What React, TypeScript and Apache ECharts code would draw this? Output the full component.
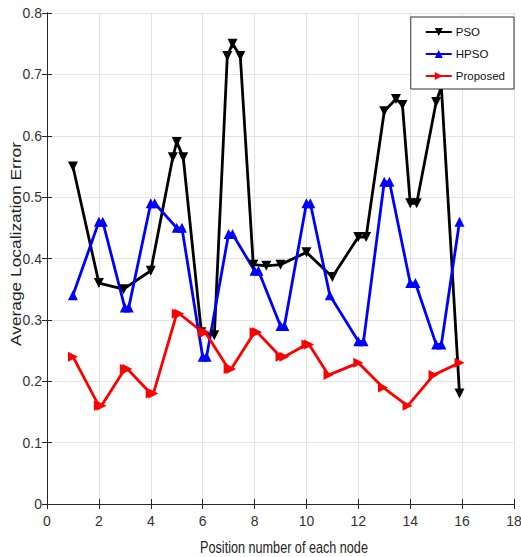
import React, { useEffect, useRef } from "react";
import * as echarts from "echarts";

const psoPoints: [number, number][] = [
  [1, 0.55], [2, 0.36], [2.95, 0.35], [4, 0.38], [4.85, 0.565], [5, 0.59], [5.25, 0.565],
  [5.95, 0.28], [6.45, 0.275], [6.95, 0.73], [7.15, 0.75], [7.45, 0.73], [7.95, 0.39],
  [8.45, 0.388], [9, 0.39], [10, 0.41], [11, 0.37], [12, 0.435], [12.3, 0.435], [13, 0.64],
  [13.45, 0.66], [13.7, 0.65], [14, 0.49], [14.25, 0.49], [15, 0.655], [15.2, 0.68], [15.9, 0.18],
];
const hpsoPoints: [number, number][] = [
  [1, 0.34], [2, 0.46], [2.15, 0.46], [3, 0.32], [3.15, 0.32], [4, 0.49], [4.15, 0.49],
  [5, 0.45], [5.2, 0.45], [6, 0.24], [6.15, 0.24], [7, 0.44], [7.15, 0.44], [8, 0.38],
  [8.15, 0.38], [9, 0.29], [9.15, 0.29], [10, 0.49], [10.15, 0.49], [10.9, 0.34],
  [12, 0.265], [12.2, 0.265], [13, 0.525], [13.2, 0.525], [14, 0.36], [14.2, 0.36],
  [15, 0.26], [15.2, 0.26], [15.9, 0.46],
];
const proposedPoints: [number, number][] = [
  [1, 0.24], [2, 0.16], [2.1, 0.16], [3, 0.22], [3.1, 0.22], [4, 0.18], [4.1, 0.18],
  [5, 0.31], [5.1, 0.31], [6, 0.28], [6.1, 0.28], [7, 0.22], [7.1, 0.22], [8, 0.28],
  [8.1, 0.28], [9, 0.24], [9.15, 0.24], [10, 0.26], [10.1, 0.26], [10.85, 0.21],
  [12, 0.23], [12.95, 0.19], [13.9, 0.16], [14.9, 0.21], [15.9, 0.23],
];
const seriesNames = ["PSO", "HPSO", "Proposed"];
const xAxisTitle = "Position number of each node";
const yAxisTitle = "Average Localization Error";

const FONT = "'Liberation Sans', Arial, sans-serif";

export default function App() {
  const ref = useRef<HTMLDivElement>(null);
  useEffect(() => {
    if (!ref.current) return;
    const chart = echarts.init(ref.current, undefined, { renderer: "svg" });
    const axisLine = { show: true, lineStyle: { color: "#262626", width: 1 } };
    const tickIn = { show: true, inside: true, length: 5, lineStyle: { color: "#262626" } };
    chart.setOption({
      animation: false,
      backgroundColor: "#fff",
      grid: { left: 47, right: 7, top: 13, bottom: 53, outerBoundsMode: "none", containLabel: false },
      legend: {
        orient: "vertical",
        right: 7,
        top: 17,
        backgroundColor: "#fff",
        borderColor: "#333",
        borderWidth: 1,
        borderRadius: 0,
        padding: [9, 9, 7, 14],
        itemGap: 10,
        itemWidth: 26,
        itemHeight: 10,
        textStyle: { fontFamily: FONT, fontSize: 11.5, color: "#111", padding: [0, 0, 0, -1] },
        data: seriesNames,
      },
      graphic: [
        {
          type: "text",
          x: 284,
          y: 547,
          scaleX: 0.79,
          style: {
            text: xAxisTitle,
            font: "16px 'Liberation Sans', Arial, sans-serif",
            fill: "#222",
            align: "center",
            verticalAlign: "middle",
          },
        },
        {
          type: "text",
          x: 16,
          y: 244,
          rotation: Math.PI / 2,
          scaleX: 1.24,
          style: {
            text: yAxisTitle,
            font: "14px 'Liberation Sans', Arial, sans-serif",
            fill: "#222",
            align: "center",
            verticalAlign: "middle",
          },
        },
      ],
      xAxis: [
        {
          type: "value",
          min: 0,
          max: 18,
          interval: 2,
          position: "bottom",
          axisLine,
          axisTick: tickIn,
          axisLabel: { fontFamily: FONT, fontSize: 14, color: "#333", margin: 10 },
          splitLine: { show: true, lineStyle: { color: "#e3e3e3", width: 1 } },
        },
        {
          type: "value",
          min: 0,
          max: 18,
          interval: 2,
          position: "top",
          axisLine,
          axisTick: tickIn,
          axisLabel: { show: false },
          splitLine: { show: false },
        },
      ],
      yAxis: [
        {
          type: "value",
          min: 0,
          max: 0.8,
          interval: 0.1,
          position: "left",
          axisLine,
          axisTick: tickIn,
          axisLabel: {
            fontFamily: FONT,
            fontSize: 14,
            color: "#333",
            margin: 5,
            formatter: (v: number) => (v === 0 ? "0" : String(Math.round(v * 10) / 10)),
          },
          splitLine: { show: true, lineStyle: { color: "#e3e3e3", width: 1 } },
        },
        {
          type: "value",
          min: 0,
          max: 0.8,
          interval: 0.1,
          position: "right",
          axisLine,
          axisTick: tickIn,
          axisLabel: { show: false },
          splitLine: { show: false },
        },
      ],
      series: [
        {
          name: "PSO",
          type: "line",
          data: psoPoints,
          symbol: "triangle",
          symbolRotate: 180,
          symbolSize: 10,
          lineStyle: { color: "#000", width: 2.8 },
          itemStyle: { color: "#000" },
        },
        {
          name: "HPSO",
          type: "line",
          data: hpsoPoints,
          symbol: "triangle",
          symbolSize: 10,
          lineStyle: { color: "#0000ff", width: 2.8 },
          itemStyle: { color: "#0000ff" },
        },
        {
          name: "Proposed",
          type: "line",
          data: proposedPoints,
          symbol: "triangle",
          symbolRotate: -90,
          symbolSize: 10,
          lineStyle: { color: "#ff0000", width: 2.8 },
          itemStyle: { color: "#ff0000" },
        },
      ],
    });
    return () => chart.dispose();
  }, []);
  return <div ref={ref} style={{ width: 521, height: 557, position: "absolute", left: 0, top: 0 }} />;
}
